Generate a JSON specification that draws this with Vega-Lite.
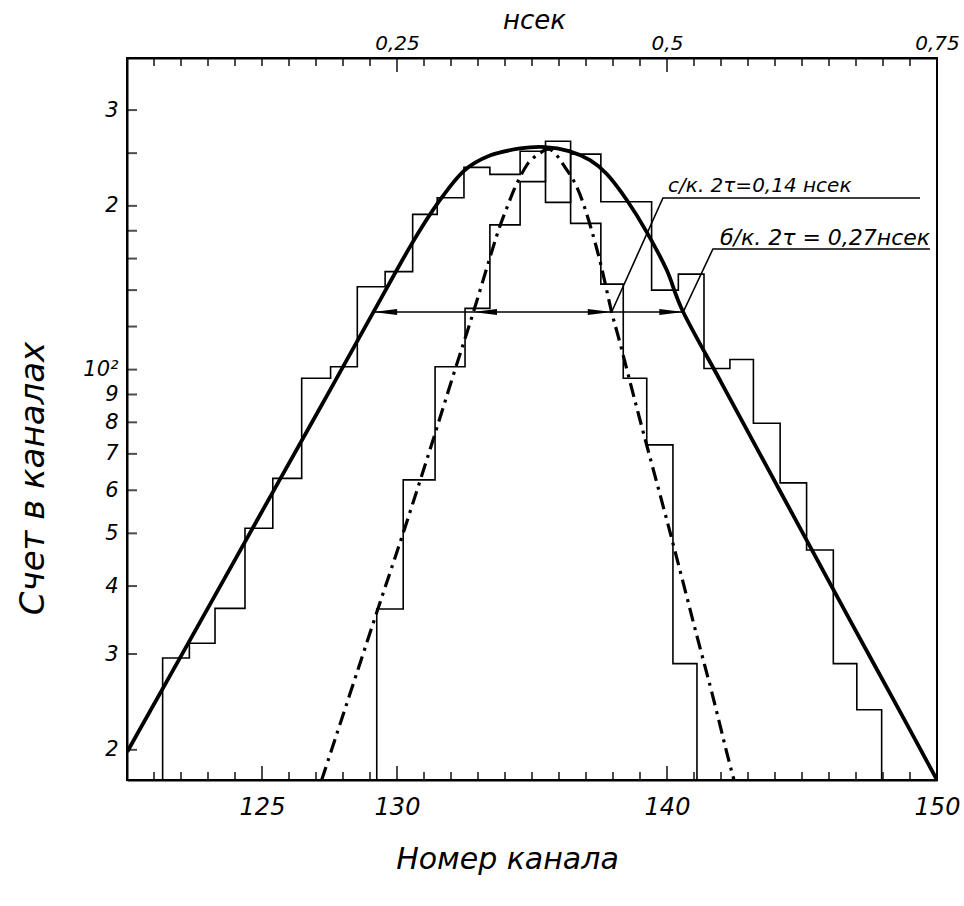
{
 "$schema": "https://vega.github.io/schema/vega-lite/v6.json",
 "width": 810, "height": 722,
 "autosize": {"type": "none"},
 "padding": {"left": 127, "top": 58, "right": 27, "bottom": 126},
 "background": "white",
 "config": {"view": {"stroke": "black", "strokeWidth": 2}, "axis": {"grid": false}},
 "datasets": {
  "wide": [{"x":121.31,"y":17.6},{"x":121.32,"y":29.5},{"x":122.31,"y":31.4},{"x":123.26,"y":36.4},{"x":124.37,"y":51.1},{"x":125.40,"y":63.1},{"x":126.47,"y":96.4},{"x":127.54,"y":101.2},{"x":128.53,"y":142},{"x":129.56,"y":151.4},{"x":130.58,"y":192.9},{"x":131.49,"y":207},{"x":132.48,"y":235.4},{"x":133.44,"y":228.5},{"x":134.56,"y":252},{"x":135.5,"y":203},{"x":136.43,"y":249},{"x":137.55,"y":203.5},{"x":139.43,"y":140},{"x":140.42,"y":149.8},{"x":141.37,"y":100.5},{"x":142.33,"y":104.4},{"x":143.2,"y":79.7},{"x":144.19,"y":61.9},{"x":145.17,"y":46.6},{"x":146.16,"y":28.8},{"x":147.03,"y":23.7},{"x":147.95,"y":17.6}],
  "narrow": [{"x":129.24,"y":17.6},{"x":129.25,"y":36.3},{"x":130.23,"y":62.7},{"x":131.41,"y":101.2},{"x":132.52,"y":129.6},{"x":133.44,"y":184.5},{"x":134.56,"y":221.6},{"x":135.5,"y":263},{"x":136.43,"y":185.7},{"x":137.55,"y":143.6},{"x":138.38,"y":96.4},{"x":139.25,"y":72.7},{"x":140.22,"y":28.8},{"x":141.11,"y":17.6}],
  "fitWide": [{"x":120.01,"y":19.84},{"x":122.70,"y":34.3},{"x":125.67,"y":62.9},{"x":127.52,"y":91.7},{"x":129.12,"y":127.4},{"x":130.54,"y":170.1},{"x":131.56,"y":204.0},{"x":132.48,"y":232.0},{"x":133.44,"y":247.5},{"x":134.56,"y":255.0},{"x":135.48,"y":256.5},{"x":136.37,"y":252.2},{"x":137.15,"y":242.7},{"x":137.77,"y":228.8},{"x":138.51,"y":205.0},{"x":139.25,"y":179.0},{"x":139.99,"y":152.4},{"x":140.60,"y":127.6},{"x":141.96,"y":95.7},{"x":143.44,"y":70.0},{"x":145.17,"y":48.6},{"x":146.78,"y":34.6},{"x":148.63,"y":23.5},{"x":150,"y":17.6}],
  "fitNarrow": [{"x":127.21,"y":17.6},{"x":129.12,"y":34.2},{"x":130.23,"y":50.1},{"x":131.22,"y":71.2},{"x":132.04,"y":96.1},{"x":132.83,"y":127.6},{"x":133.69,"y":176},{"x":134.11,"y":200.7},{"x":134.43,"y":219.3},{"x":134.86,"y":239.7},{"x":135.30,"y":250.1},{"x":135.59,"y":254.3},{"x":135.85,"y":250.1},{"x":136.22,"y":235.7},{"x":136.59,"y":220.3},{"x":136.90,"y":202},{"x":137.27,"y":176},{"x":137.59,"y":153},{"x":137.95,"y":127.6},{"x":138.26,"y":111.9},{"x":139.0,"y":80.8},{"x":140.11,"y":50.3},{"x":141.10,"y":32.5},{"x":141.66,"y":25.5},{"x":142.21,"y":19.8},{"x":142.48,"y":17.6}],
  "arrow": [{"x1":129.12,"x2":140.60,"y":127.6}],
  "heads": [{"x":129.56,"y":127.6,"dir":"left"},{"x":133.26,"y":127.6,"dir":"left"},{"x":137.51,"y":127.6,"dir":"right"},{"x":140.16,"y":127.6,"dir":"right"}],
  "leaders": [{"g":"c","x":137.95,"y":127.6},{"g":"c","x":139.85,"y":206.8},{"g":"c","x":149.37,"y":206.8},{"g":"b","x":140.60,"y":127.6},{"g":"b","x":141.70,"y":166.6},{"g":"b","x":149.74,"y":166.6}],
  "note1": [{"t":"с/к. 2τ=0,14 нсек","x":140.04,"y":212}],
  "note2": [{"t":"б/к. 2τ = 0,27нсек","x":141.96,"y":169.4}],
  "botMinor": [{"x":121,"y":17.6},{"x":122,"y":17.6},{"x":123,"y":17.6},{"x":124,"y":17.6},{"x":126,"y":17.6},{"x":127,"y":17.6},{"x":128,"y":17.6},{"x":129,"y":17.6},{"x":131,"y":17.6},{"x":132,"y":17.6},{"x":133,"y":17.6},{"x":134,"y":17.6},{"x":135,"y":17.6},{"x":136,"y":17.6},{"x":137,"y":17.6},{"x":138,"y":17.6},{"x":139,"y":17.6},{"x":141,"y":17.6},{"x":142,"y":17.6},{"x":143,"y":17.6},{"x":144,"y":17.6},{"x":145,"y":17.6},{"x":146,"y":17.6},{"x":147,"y":17.6},{"x":148,"y":17.6},{"x":149,"y":17.6}],
  "botMajor": [{"x":125,"y":17.6},{"x":130,"y":17.6},{"x":140,"y":17.6}],
  "topMinor": [{"x":121,"y":374},{"x":122,"y":374},{"x":123,"y":374},{"x":124,"y":374},{"x":125,"y":374},{"x":126,"y":374},{"x":127,"y":374},{"x":128,"y":374},{"x":129,"y":374},{"x":131,"y":374},{"x":132,"y":374},{"x":133,"y":374},{"x":134,"y":374},{"x":135,"y":374},{"x":136,"y":374},{"x":137,"y":374},{"x":138,"y":374},{"x":139,"y":374},{"x":141,"y":374},{"x":142,"y":374},{"x":143,"y":374},{"x":144,"y":374},{"x":145,"y":374},{"x":146,"y":374},{"x":147,"y":374},{"x":148,"y":374},{"x":149,"y":374}],
  "topMajor": [{"x":130,"y":374},{"x":140,"y":374}],
  "leftTicks": [{"x":120,"y":20},{"x":120,"y":30},{"x":120,"y":40},{"x":120,"y":50},{"x":120,"y":60},{"x":120,"y":70},{"x":120,"y":80},{"x":120,"y":90},{"x":120,"y":100},{"x":120,"y":120},{"x":120,"y":140},{"x":120,"y":160},{"x":120,"y":180},{"x":120,"y":200},{"x":120,"y":250},{"x":120,"y":300}]
 },
 "encoding": {
  "y": {"field": "y", "type": "quantitative",
   "scale": {"type": "log", "domain": [17.6, 374], "nice": false},
   "axis": {"orient": "left", "values": [20,30,40,50,60,70,80,90,100,120,140,160,180,200,250,300],
    "labelExpr": "datum.value == 100 ? '10²' : (datum.value == 200 || datum.value == 300) ? '' + (datum.value / 100) : datum.value < 100 ? '' + (datum.value / 10) : ''",
    "ticks": false, "domainColor": "black", "domainWidth": 2,
    "labelPadding": 9, "labelAlign": "right", "labelBaseline": "middle", "labelFont": "DejaVu Sans", "labelFontSize": 21, "labelFontStyle": "italic", "labelColor": "black",
    "title": "Счет в каналах", "titleFont": "DejaVu Sans", "titleFontSize": 34, "titleFontStyle": "italic", "titleFontWeight": "normal", "titleColor": "black",
    "titleX": -94, "titleY": 420, "titleAngle": 270, "titleAlign": "center", "titleBaseline": "middle"}}
 },
 "resolve": {"axis": {"x": "independent"}},
 "layer": [
  {"data": {"name": "wide"}, "mark": {"type": "line", "interpolate": "step-after", "color": "black", "strokeWidth": 1.6, "clip": true},
   "encoding": {"x": {"field": "x", "type": "quantitative", "scale": {"domain": [120, 150], "nice": false, "zero": false},
    "axis": {"orient": "bottom", "values": [125, 130, 140, 150],
     "labelExpr": "'' + datum.value", "ticks": false, "domainColor": "black", "domainWidth": 2,
     "labelPadding": 15, "labelFont": "DejaVu Sans", "labelFontSize": 24, "labelFontStyle": "italic", "labelColor": "black", "labelFlush": false,
     "title": "Номер канала", "titleFont": "DejaVu Sans", "titleFontSize": 30, "titleFontStyle": "italic", "titleFontWeight": "normal", "titleColor": "black",
     "titleX": 380, "titleY": 88, "titleAlign": "center", "titleBaseline": "alphabetic"}}}},
  {"data": {"name": "narrow"}, "mark": {"type": "line", "interpolate": "step-after", "color": "black", "strokeWidth": 1.6, "clip": true},
   "encoding": {"x": {"field": "x", "type": "quantitative", "scale": {"domain": [120, 150], "nice": false, "zero": false},
    "axis": {"orient": "top", "values": [130, 140, 150],
     "labelExpr": "datum.value == 130 ? '0,25' : datum.value == 140 ? '0,5' : '0,75'",
     "ticks": false, "domainColor": "black", "domainWidth": 2,
     "labelPadding": 5, "labelFont": "DejaVu Sans", "labelFontSize": 20, "labelFontStyle": "italic", "labelColor": "black", "labelFlush": false,
     "title": "нсек", "titleFont": "DejaVu Sans", "titleFontSize": 26, "titleFontStyle": "italic", "titleFontWeight": "normal", "titleColor": "black",
     "titleX": 407, "titleY": -30, "titleAlign": "center", "titleBaseline": "alphabetic"}}}},
  {"data": {"name": "botMinor"}, "mark": {"type": "tick", "orient": "vertical", "color": "black", "size": 8, "thickness": 2, "yOffset": -4},
   "encoding": {"x": {"field": "x", "type": "quantitative", "scale": {"domain": [120, 150], "nice": false, "zero": false}, "axis": null}}},
  {"data": {"name": "botMajor"}, "mark": {"type": "tick", "orient": "vertical", "color": "black", "size": 14, "thickness": 2, "yOffset": -7},
   "encoding": {"x": {"field": "x", "type": "quantitative", "scale": {"domain": [120, 150], "nice": false, "zero": false}, "axis": null}}},
  {"data": {"name": "topMinor"}, "mark": {"type": "tick", "orient": "vertical", "color": "black", "size": 8, "thickness": 2, "yOffset": 4},
   "encoding": {"x": {"field": "x", "type": "quantitative", "scale": {"domain": [120, 150], "nice": false, "zero": false}, "axis": null}}},
  {"data": {"name": "topMajor"}, "mark": {"type": "tick", "orient": "vertical", "color": "black", "size": 14, "thickness": 2, "yOffset": 7},
   "encoding": {"x": {"field": "x", "type": "quantitative", "scale": {"domain": [120, 150], "nice": false, "zero": false}, "axis": null}}},
  {"data": {"name": "leftTicks"}, "mark": {"type": "tick", "orient": "horizontal", "color": "black", "size": 10, "thickness": 2, "xOffset": 5},
   "encoding": {"x": {"field": "x", "type": "quantitative", "scale": {"domain": [120, 150], "nice": false, "zero": false}, "axis": null}}},
  {"data": {"name": "fitWide"}, "mark": {"type": "line", "interpolate": "cardinal", "color": "black", "strokeWidth": 3.8, "clip": true},
   "encoding": {"x": {"field": "x", "type": "quantitative", "scale": {"domain": [120, 150], "nice": false, "zero": false}, "axis": null}}},
  {"data": {"name": "fitNarrow"}, "mark": {"type": "line", "interpolate": "cardinal", "color": "black", "strokeWidth": 3.2, "strokeDash": [14, 6, 3, 6], "clip": true},
   "encoding": {"x": {"field": "x", "type": "quantitative", "scale": {"domain": [120, 150], "nice": false, "zero": false}, "axis": null}}},
  {"data": {"name": "arrow"}, "mark": {"type": "rule", "color": "black", "strokeWidth": 1.6},
   "encoding": {"x": {"field": "x1", "type": "quantitative", "scale": {"domain": [120, 150], "nice": false, "zero": false}, "axis": null}, "x2": {"field": "x2"}}},
  {"data": {"name": "heads"}, "mark": {"type": "point", "filled": true, "color": "black", "size": 576, "opacity": 1},
   "encoding": {"x": {"field": "x", "type": "quantitative", "scale": {"domain": [120, 150], "nice": false, "zero": false}, "axis": null},
    "shape": {"field": "dir", "type": "nominal", "scale": {"domain": ["left", "right"], "range": ["M-1,0L1,-0.25L1,0.25Z", "M1,0L-1,-0.25L-1,0.25Z"]}, "legend": null}}},
  {"data": {"name": "leaders"}, "mark": {"type": "line", "color": "black", "strokeWidth": 1.6},
   "encoding": {"x": {"field": "x", "type": "quantitative", "scale": {"domain": [120, 150], "nice": false, "zero": false}, "axis": null}, "detail": {"field": "g"}}},
  {"data": {"name": "note1"}, "mark": {"type": "text", "align": "left", "baseline": "alphabetic", "font": "DejaVu Sans", "fontSize": 20, "fontStyle": "italic", "color": "black"},
   "encoding": {"x": {"field": "x", "type": "quantitative", "scale": {"domain": [120, 150], "nice": false, "zero": false}, "axis": null}, "text": {"field": "t"}}},
  {"data": {"name": "note2"}, "mark": {"type": "text", "align": "left", "baseline": "alphabetic", "font": "DejaVu Sans", "fontSize": 22, "fontStyle": "italic", "color": "black"},
   "encoding": {"x": {"field": "x", "type": "quantitative", "scale": {"domain": [120, 150], "nice": false, "zero": false}, "axis": null}, "text": {"field": "t"}}}
 ]
}
